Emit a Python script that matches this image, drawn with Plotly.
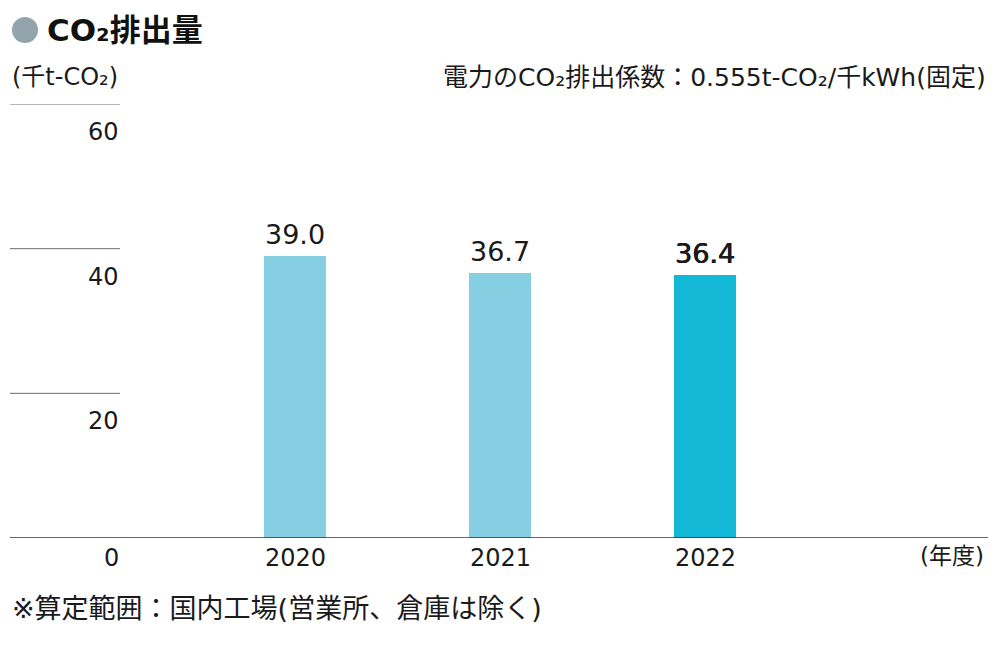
import plotly.graph_objects as go

years = [2020, 2021, 2022]
values = [39.0, 36.7, 36.4]
bar_colors = ["#86CEE2", "#86CEE2", "#13B8D6"]
y_ticks = [20, 40, 60]
year_labels = ["2020", "2021", "2022"]

FONT = "DejaVu Sans, Noto Sans CJK JP"
L, R, T, B = 10, 12, 104, 107
W, H = 1000, 645
pw, ph = W - L - R, H - T - B

def px_x(p):
    return (p - L) / pw

def px_y(p):
    return (H - B - p) / ph

fig = go.Figure()
fig.add_trace(go.Bar(
    x=years, y=values, width=0.3,
    marker=dict(color=bar_colors, line=dict(width=0)),
    hoverinfo="skip",
))

annotations = []
for i, (yr, v) in enumerate(zip(years, values)):
    txt = f"{v:.1f}"
    last = i == len(years) - 1
    font = dict(family=FONT, size=27, color="#1a1a1a")
    if last:
        font["shadow"] = "0.6px 0px 0px #1a1a1a, -0.3px 0px 0px #1a1a1a"
    annotations.append(dict(x=yr, y=v, xref="x", yref="y", text=txt, showarrow=False,
                            yanchor="bottom", yshift=4, font=font))
    annotations.append(dict(x=yr, y=0, xref="x", yref="y", text=year_labels[i], showarrow=False,
                            yanchor="top", yshift=-4,
                            font=dict(family=FONT, size=24, color="#1a1a1a")))

shapes = []
for t in y_ticks:
    shapes.append(dict(type="line", xref="paper", yref="y", x0=0, x1=px_x(120), y0=t, y1=t,
                       line=dict(color="#6e6e6e", width=1)))
    annotations.append(dict(x=px_x(121), y=t, xref="paper", yref="y", text=str(t), showarrow=False,
                            xanchor="right", yanchor="top", yshift=-12,
                            font=dict(family=FONT, size=24, color="#1a1a1a")))
annotations.append(dict(x=px_x(121), y=0, xref="paper", yref="y", text="0", showarrow=False,
                        xanchor="right", yanchor="top", yshift=-4,
                        font=dict(family=FONT, size=24, color="#1a1a1a")))

# baseline
shapes.append(dict(type="line", xref="paper", yref="y", x0=0, x1=1, y0=0, y1=0,
                   line=dict(color="#333333", width=1.5)))

# title bullet
shapes.append(dict(type="circle", xref="paper", yref="paper",
                   x0=px_x(12), x1=px_x(38), y0=px_y(43), y1=px_y(17),
                   fillcolor="#93A4AC", line=dict(width=0)))

annotations += [
    dict(x=px_x(45), y=px_y(30), xref="paper", yref="paper", text="<b>CO₂排出量</b>",
         showarrow=False, xanchor="left", yanchor="middle",
         font=dict(family=FONT, size=31, color="#111111")),
    dict(x=px_x(10), y=px_y(77), xref="paper", yref="paper", text="(千t-CO₂)",
         showarrow=False, xanchor="left", yanchor="middle",
         font=dict(family=FONT, size=24, color="#1a1a1a")),
    dict(x=px_x(988), y=px_y(77), xref="paper", yref="paper",
         text="電力のCO₂排出係数：0.555t-CO₂/千kWh(固定)",
         showarrow=False, xanchor="right", yanchor="middle",
         font=dict(family=FONT, size=25, color="#1a1a1a")),
    dict(x=px_x(986), y=px_y(556), xref="paper", yref="paper", text="(年度)",
         showarrow=False, xanchor="right", yanchor="middle",
         font=dict(family=FONT, size=23, color="#1a1a1a")),
    dict(x=px_x(10), y=px_y(608), xref="paper", yref="paper",
         text="※算定範囲：国内工場(営業所、倉庫は除く)",
         showarrow=False, xanchor="left", yanchor="middle",
         font=dict(family=FONT, size=27, color="#1a1a1a")),
]

x0 = 2020 - (295 - L) / 205
x1 = x0 + pw / 205

fig.update_layout(
    width=W, height=H,
    margin=dict(l=L, r=R, t=T, b=B, autoexpand=False),
    paper_bgcolor="white", plot_bgcolor="white",
    showlegend=False,
    xaxis=dict(range=[x0, x1], showgrid=False, zeroline=False, showticklabels=False,
               showline=False, fixedrange=True),
    yaxis=dict(range=[0, 60], showgrid=False, zeroline=False, showticklabels=False,
               showline=False, fixedrange=True),
    shapes=shapes,
    annotations=annotations,
    bargap=0,
)

fig.write_html("out.html", config={"displayModeBar": False},
               post_script="document.body.style.margin='0';document.body.style.padding='0';")
